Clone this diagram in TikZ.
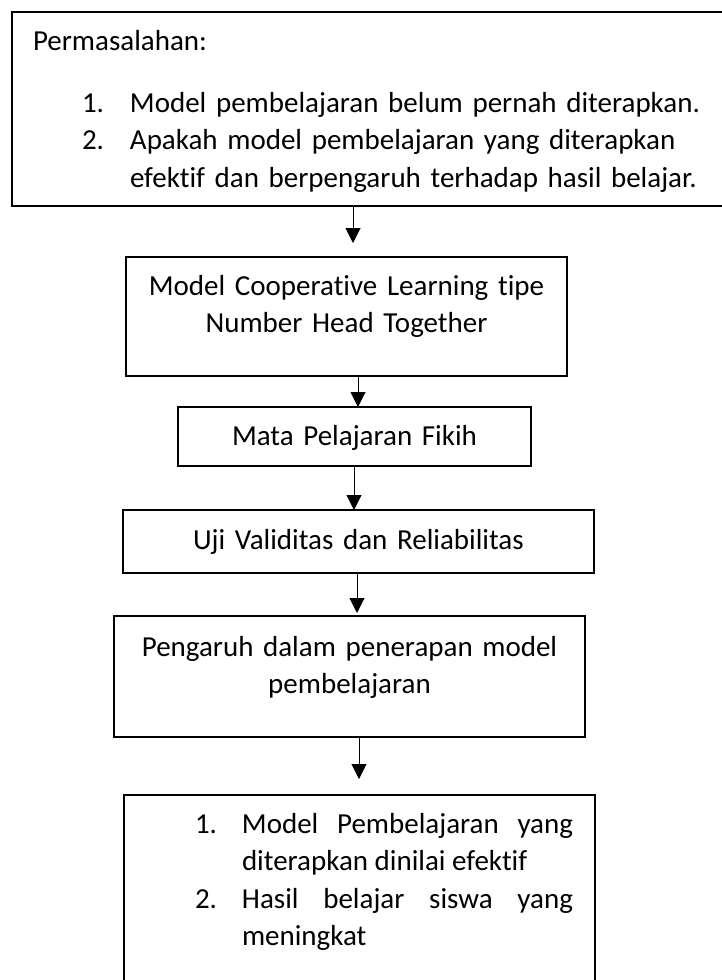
\documentclass[tikz,border=0pt]{standalone}
\usepackage{fontspec}
\setmainfont{Carlito}[Ligatures=NoCommon]
\usetikzlibrary{
  arrows.meta,
  positioning
}
\tikzset{
  kotak/.style={
    rectangle, draw=black, line width=0.75pt, inner sep=0pt, outer sep=0pt,
    text width=235.5pt, align=center, text height=19pt,
    font=\fontsize{14.5pt}{18.75pt}\selectfont
  },
  panah/.style={-{Triangle[length=7.5pt,width=7.5pt]}, line width=0.5pt}
}
\newcommand{\butir}[1]{\hspace*{24.5pt}\makebox[24pt][l]{#1}}
\newcommand{\nomor}[1]{\noindent\llap{\makebox[23.5pt][l]{#1}}}

\begin{document}
\begin{tikzpicture}
  \useasboundingbox (0,0) rectangle (361pt,-490pt);

  % kotak atas terpotong di tepi kanan
  \node[kotak, draw=none, anchor=north west, text width=353pt, inner xsep=10.5pt,
        align=left, text depth=78pt] (masalah) at (6pt,-6pt)
        {Permasalahan:\\[12.25pt]
         \butir{1.}Model pembelajaran belum pernah diterapkan.\\
         \butir{2.}Apakah model pembelajaran yang diterapkan\\
         \hspace*{48.5pt}efektif dan berpengaruh terhadap hasil belajar.};
  \draw[line width=0.75pt] (masalah.north east) -- (masalah.north west)
    -- (masalah.south west) -- (masalah.south east);

  \node[kotak, below=25.5pt of masalah, xshift=-19.75pt,
        text width=220.5pt, text depth=40.5pt] (model)
        {Model Cooperative Learning tipe\\Number Head Together};
  \node[kotak, below=15.5pt of model, xshift=4pt,
        text width=176.5pt, text depth=10.5pt] (mapel) {Mata Pelajaran Fikih};
  \node[kotak, below=22pt of mapel, xshift=2pt,
        text height=19.5pt, text depth=12pt] (uji) {Uji Validitas dan Reliabilitas};
  \node[kotak, below=21.5pt of uji, xshift=-4.5pt,
        text height=20pt, text depth=40.5pt] (pengaruh)
        {Pengaruh dalam penerapan model\\pembelajaran};
  \node[kotak, below=29pt of pengaruh, xshift=5pt, align=justify,
        text depth=83.5pt] (hasil)
        {\leftskip=59pt \rightskip=11pt \hyphenpenalty=10000
         \nomor{1.}Model Pembelajaran yang\linebreak diterapkan dinilai efektif\par
         \nomor{2.}Hasil belajar siswa yang\linebreak meningkat\par};

  \draw[panah, shorten >=7pt] ([xshift=-16.5pt]masalah.south) -- ([xshift=3.25pt]model.north);
  \draw[panah] ([xshift=5.75pt]model.south) -- ([xshift=1.75pt]mapel.north);
  \draw[panah] ([xshift=-0.25pt]mapel.south) -- ([xshift=-2.25pt]uji.north);
  \draw[panah, shorten >=1.5pt] ([xshift=-0.75pt]uji.south) -- ([xshift=3.75pt]pengaruh.north);
  \draw[panah, shorten >=8pt] ([xshift=4.75pt]pengaruh.south) -- ([xshift=-0.25pt]hasil.north);
\end{tikzpicture}
\end{document}
